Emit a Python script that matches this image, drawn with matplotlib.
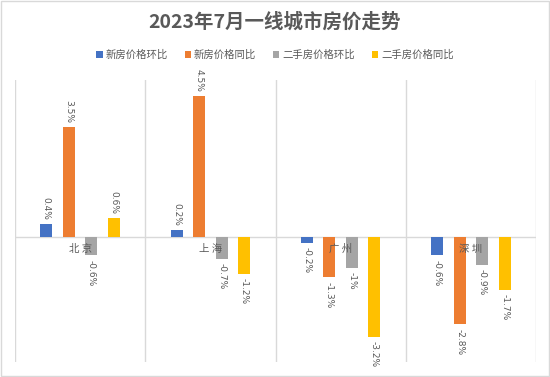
import numpy as np
import matplotlib.pyplot as plt
from matplotlib.patches import Rectangle

plt.rcParams['font.family'] = ['Noto Sans CJK SC', 'DejaVu Sans']

cities = ["北京", "上海", "广州", "深圳"]
series_names = ["新房价格环比", "新房价格同比", "二手房价格环比", "二手房价格同比"]
new_mom = [0.4, 0.2, -0.2, -0.6]
new_yoy = [3.5, 4.5, -1.3, -2.8]
used_mom = [-0.6, -0.7, -1, -0.9]
used_yoy = [0.6, -1.2, -3.2, -1.7]
colors = ["#4472C4", "#ED7D31", "#A5A5A5", "#FFC000"]
text_color = "#595959"

fig = plt.figure(figsize=(5.5, 3.77), dpi=100)
ax = fig.add_axes([15 / 550, 15 / 377, 521 / 550, 282 / 377])

x = np.arange(len(cities))
pitch = 0.173
width = 0.092
all_series = [new_mom, new_yoy, used_mom, used_yoy]
for k, (vals, name, c) in enumerate(zip(all_series, series_names, colors)):
    pos = x + (k - 1.5) * pitch
    ax.bar(pos, vals, width, color=c, label=name, zorder=2)
    for px, v in zip(pos, vals):
        if v >= 0:
            ax.annotate(f"{v:g}%", (px, v), xytext=(0, 3), textcoords="offset points",
                        rotation=270, ha="center", va="bottom", fontsize=6.5,
                        color=text_color, family="DejaVu Sans")
        else:
            ax.annotate(f"{v:g}%", (px, v), xytext=(0, -3), textcoords="offset points",
                        rotation=270, ha="center", va="top", fontsize=6.5,
                        color=text_color, family="DejaVu Sans")

# category labels sitting under the zero line
for i, name in enumerate(cities):
    ax.annotate(" ".join(name), (i, 0), xytext=(0, -5), textcoords="offset points",
                ha="center", va="top", fontsize=7.5, color=text_color, zorder=5)

ax.set_xlim(-0.5, 3.5)
ax.set_ylim(-4, 5)
ax.axhline(0, color="#D9D9D9", lw=1, zorder=1)
for b in np.arange(-0.5, 4, 1):
    ax.axvline(b, color="#D9D9D9", lw=1, zorder=1)
for s in ax.spines.values():
    s.set_visible(False)
ax.set_xticks([])
ax.set_yticks([])

fig.text(0.5, 1 - 22 / 377, "2023年7月一线城市房价走势", ha="center", va="center",
         fontsize=14, fontweight="bold", color=text_color)
fig.legend(loc="center", bbox_to_anchor=(0.5, 1 - 55 / 377), ncol=4, frameon=False,
           fontsize=7.5, handlelength=0.6, handleheight=0.6, handletextpad=0.3,
           columnspacing=1.6, labelcolor=text_color)

fig.add_artist(Rectangle((0.001, 0.002), 0.997, 0.996, transform=fig.transFigure,
                         fill=False, ec="#D9D9D9", lw=1))

fig.savefig("out.png", dpi=100)
